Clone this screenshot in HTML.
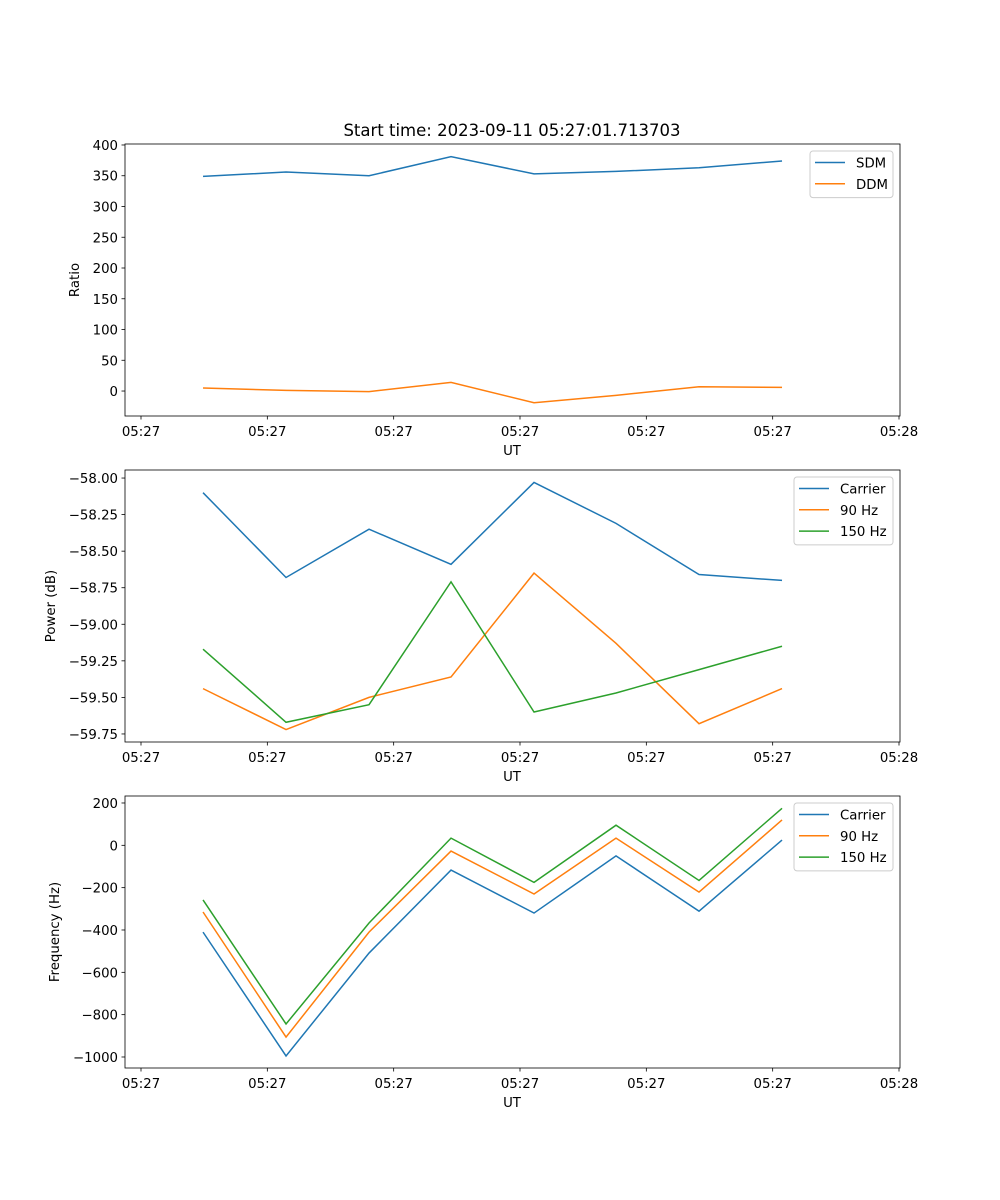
<!DOCTYPE html>
<html><head><meta charset="utf-8"><style>
html,body{margin:0;padding:0;background:#fff;}
svg{display:block;font-family:"DejaVu Sans","Liberation Sans",sans-serif;}
</style></head><body>
<svg id="fig" width="1000" height="1200" viewBox="0 0 1000 1200" xmlns="http://www.w3.org/2000/svg">
<rect width="1000" height="1200" fill="#fff"/>
<text x="512" y="136" font-size="16.5" text-anchor="middle">Start time: 2023-09-11 05:27:01.713703</text>
</svg>
<script>
const times = [4.91, 11.48, 18.05, 24.54, 31.11, 37.6, 44.17, 50.74];
const xTicks = [0, 10, 20, 30, 40, 50, 60];
const xTickLabels = ["05:27","05:27","05:27","05:27","05:27","05:27","05:28"];
const sdm = [349, 356, 350, 381, 353, 357, 363, 374];
const ddm = [5, 1, -1, 14, -19, -7, 7, 6];
const powCarrier = [-58.10, -58.68, -58.35, -58.59, -58.03, -58.31, -58.66, -58.70];
const pow90 = [-59.44, -59.72, -59.50, -59.36, -58.65, -59.13, -59.68, -59.44];
const pow150 = [-59.17, -59.67, -59.55, -58.71, -59.60, -59.47, -59.31, -59.15];
const freqCarrier = [-410, -995, -509, -117, -320, -50, -311, 25];
const freq90 = [-315, -906, -410, -27, -230, 34, -221, 120];
const freq150 = [-258, -844, -367, 34, -175, 95, -166, 175];
const ratioTicks = [0, 50, 100, 150, 200, 250, 300, 350, 400];
const powTicks = [-59.75, -59.5, -59.25, -59.0, -58.75, -58.5, -58.25, -58.0];
const freqTicks = [-1000, -800, -600, -400, -200, 0, 200];

const NS = "http://www.w3.org/2000/svg";
const svg = document.getElementById('fig');
const C = ['#1f77b4', '#ff7f0e', '#2ca02c'];
const FS = 13.3;
function el(tag, attrs, parent) {
  const e = document.createElementNS(NS, tag);
  for (const k in attrs) e.setAttribute(k, attrs[k]);
  (parent || svg).appendChild(e);
  return e;
}
const X0 = 125, X1 = 900;
const xs = t => 141 + (t - 0) * (758 / 60);

function panel(id, top, bottom, yMin, yMax, yTicks, fmt, ylabel, series, names, legendW) {
  const g = el('g', {});
  
  
  const ys = v => bottom - (v - yMin) / (yMax - yMin) * (bottom - top);
  xTicks.forEach((t, i) => {
    const x = xs(t);
    el('line', {x1: x, x2: x, y1: bottom, y2: bottom + 3.5, stroke: '#000', 'stroke-width': 0.8}, g);
    const tx = el('text', {x: x, y: bottom + 20, 'font-size': FS, 'text-anchor': 'middle'}, g);
    
    
    tx.textContent = xTickLabels[i];
  });
  const xl = el('text', {x: 512, y: bottom + 39, 'font-size': FS, 'text-anchor': 'middle'}, g);
  
  
  xl.textContent = 'UT';
  yTicks.forEach(v => {
    const y = ys(v);
    el('line', {x1: X0 - 3.5, x2: X0, y1: y, y2: y, stroke: '#000', 'stroke-width': 0.8}, g);
    const tx = el('text', {x: X0 - 7, y: y + 5, 'font-size': FS, 'text-anchor': 'end'}, g);
    
    
    tx.textContent = fmt(v);
  });
  const yl = el('text', {x: 0, y: 0, 'font-size': FS, 'text-anchor': 'middle', transform: `translate(${ylabel[1]},${(top + bottom) / 2}) rotate(-90)`}, g);
  
  
  yl.textContent = ylabel[0];
  series.forEach((s, i) => {
    const p = el('polyline', {points: s.map((v, j) => xs(times[j]).toFixed(2) + ',' + ys(v).toFixed(2)).join(' '), fill: 'none', stroke: C[i], 'stroke-width': 1.5}, g);
    
    
  });
  el('rect', {x: X0, y: top, width: X1 - X0, height: bottom - top, fill: 'none', stroke: '#000', 'stroke-width': 0.8}, g);
  const lx = X1 - 7 - legendW, ly = top + 7;
  const lg = el('g', {}, g);
  
  
  el('rect', {x: lx, y: ly, width: legendW, height: 4 + names.length * 21.3, rx: 3, fill: '#fff', 'fill-opacity': 0.8, stroke: '#ccc', 'stroke-width': 1}, lg);
  names.forEach((n, i) => {
    const y = ly + 11.5 + i * 21.3;
    el('line', {x1: lx + 5, x2: lx + 35, y1: y, y2: y, stroke: C[i], 'stroke-width': 1.5}, lg);
    const t = el('text', {x: lx + 46, y: y + 5, 'font-size': FS}, lg);
    
    
    t.textContent = n;
  });
}
panel('ratio', 144, 416, -40.6, 401.6, ratioTicks, v => String(v), ['Ratio', 79], [sdm, ddm], ['SDM', 'DDM'], 83);
panel('power', 470, 742, -59.805, -57.945, powTicks, v => (v < 0 ? '\u2212' : '') + Math.abs(v).toFixed(2), ['Power (dB)', 55], [powCarrier, pow90, pow150], ['Carrier', '90 Hz', '150 Hz'], 99);
panel('frequency', 796, 1068, -1052, 233, freqTicks, v => (v < 0 ? '\u2212' : '') + Math.abs(v), ['Frequency (Hz)', 59], [freqCarrier, freq90, freq150], ['Carrier', '90 Hz', '150 Hz'], 99);
</script>
</body></html>
